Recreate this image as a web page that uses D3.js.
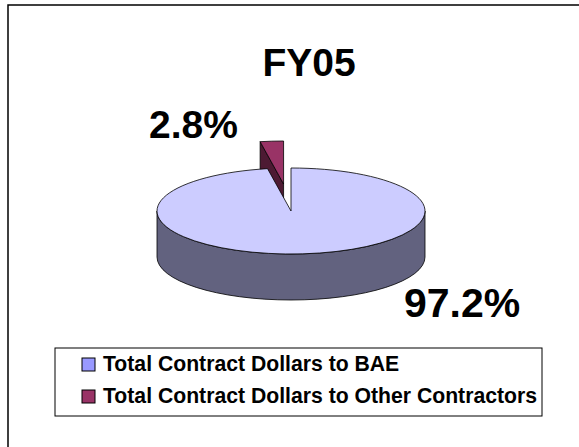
<!DOCTYPE html>
<html>
<head>
<meta charset="utf-8">
<script src="https://cdn.jsdelivr.net/npm/d3@7/dist/d3.min.js"></script>
<style>
  body { margin: 0; background: #fff; }
  text { font-family: "Liberation Sans", Arial, sans-serif; font-weight: bold; }
</style>
</head>
<body>
<div id="chart"></div>
<script>
// data
const title = "FY05";
const categories = ["Total Contract Dollars to BAE", "Total Contract Dollars to Other Contractors"];
const values = [97.2, 2.8];
const pctLabels = ["97.2%", "2.8%"];
const explode = [0, 0.63];

// colours
const topColors = ["#CCCCFF", "#993366"];
const sideColors = ["#62627F", "#4D1A33"];
const legendColors = ["#9999FF", "#993366"];

document.addEventListener("DOMContentLoaded", function () {
    const width = 579, height = 447;

    const svg = d3.select("#chart")
        .append("svg")
        .attr("width", width)
        .attr("height", height);

    // chart frame (runs off the right and bottom edge)
    svg.append("rect")
        .attr("x", 8).attr("y", 5)
        .attr("width", 640).attr("height", 500)
        .attr("fill", "#fff")
        .attr("stroke", "#000")
        .attr("stroke-width", 1.5);

    // title
    svg.append("text")
        .attr("x", 309).attr("y", 76)
        .attr("text-anchor", "middle")
        .attr("font-size", "39px")
        .text(title);

    // 3D pie geometry
    const cx = 291, cy = 211, rx = 134, ry = 43, depth = 46;

    const pie = d3.pie().sort(null).startAngle(0).endAngle(2 * Math.PI);
    const arcs = pie(values).map((d, i) => {
        const mid = (d.startAngle + d.endAngle) / 2;
        return {
            ...d,
            i: i,
            ox: cx + explode[i] * rx * Math.sin(mid),
            oy: cy - explode[i] * ry * Math.cos(mid)
        };
    });

    const pt = (d, a, dz = 0) => [d.ox + rx * Math.sin(a), d.oy - ry * Math.cos(a) + dz];

    function ellArc(d, a0, a1, dz, sweep) {
        const p = pt(d, a1, dz);
        const large = Math.abs(a1 - a0) > Math.PI ? 1 : 0;
        return `A${rx},${ry} 0 ${large} ${sweep} ${p[0]},${p[1]}`;
    }

    function topPath(d) {
        const p0 = pt(d, d.startAngle);
        return `M${d.ox},${d.oy}L${p0[0]},${p0[1]}` + ellArc(d, d.startAngle, d.endAngle, 0, 1) + "Z";
    }

    function radialFace(d, a) {
        const p = pt(d, a);
        return `M${d.ox},${d.oy}L${p[0]},${p[1]}L${p[0]},${p[1] + depth}L${d.ox},${d.oy + depth}Z`;
    }

    function outerWall(d) {
        const a0 = Math.max(d.startAngle, Math.PI / 2);
        const a1 = Math.min(d.endAngle, 3 * Math.PI / 2);
        if (a1 <= a0) return null;
        const p0 = pt(d, a0), p1b = pt(d, a1, depth);
        return `M${p0[0]},${p0[1]}` + ellArc(d, a0, a1, 0, 1) +
            `L${p1b[0]},${p1b[1]}` + ellArc(d, a1, a0, depth, 0) + "Z";
    }

    // back to front: exploded slice first, then main slice
    const order = arcs.slice().sort((a, b) => b.i - a.i);
    const g = svg.append("g");

    order.forEach(d => {
        const faces = [];
        // radial faces are only drawn when they turn toward the viewer
        if (Math.cos(d.startAngle - Math.PI / 2) < -1e-6) faces.push(radialFace(d, d.startAngle));
        if (Math.cos(d.endAngle + Math.PI / 2) < -1e-6) faces.push(radialFace(d, d.endAngle));
        const wall = outerWall(d);
        if (wall) faces.push(wall);

        g.selectAll(null)
            .data(faces)
            .enter()
            .append("path")
            .attr("d", f => f)
            .attr("fill", sideColors[d.i])
            .attr("stroke", "#000")
            .attr("stroke-width", 0.8)
            .attr("stroke-linejoin", "round");

        g.append("path")
            .attr("d", topPath(d))
            .attr("fill", topColors[d.i])
            .attr("stroke", "#000")
            .attr("stroke-width", 0.8)
            .attr("stroke-linejoin", "round");
    });

    // percentage labels
    svg.append("text")
        .attr("x", 404).attr("y", 317)
        .attr("font-size", "41px")
        .text(pctLabels[0]);

    svg.append("text")
        .attr("x", 238).attr("y", 138)
        .attr("text-anchor", "end")
        .attr("font-size", "39px")
        .text(pctLabels[1]);

    // legend
    const legend = svg.append("g");
    legend.append("rect")
        .attr("x", 55).attr("y", 348)
        .attr("width", 487).attr("height", 68)
        .attr("fill", "#fff")
        .attr("stroke", "#000")
        .attr("stroke-width", 1);

    const rows = legend.selectAll(".row")
        .data(categories)
        .enter()
        .append("g")
        .attr("class", "row")
        .attr("transform", (d, i) => `translate(82,${358 + i * 32})`);

    rows.append("rect")
        .attr("width", 13).attr("height", 13)
        .attr("fill", (d, i) => legendColors[i])
        .attr("stroke", "#000")
        .attr("stroke-width", 1);

    rows.append("text")
        .attr("x", 21).attr("y", 13)
        .attr("font-size", "21.2px")
        .text(d => d);
});
</script>
</body>
</html>
